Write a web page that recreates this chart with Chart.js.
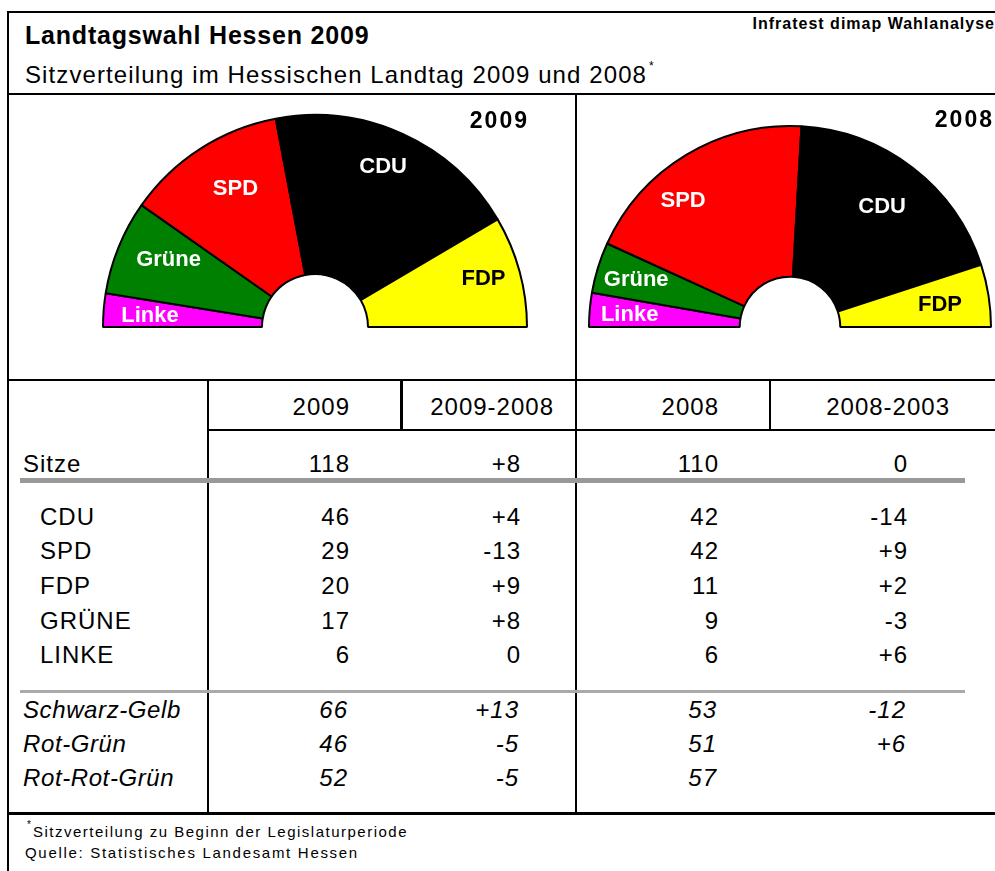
<!DOCTYPE html>
<html><head><meta charset="utf-8">
<script src="https://cdn.jsdelivr.net/npm/chart.js@4.4.1/dist/chart.umd.min.js"></script>
<style>
html,body{margin:0;padding:0;background:#fff;width:995px;height:871px;overflow:hidden;position:relative;font-family:"Liberation Sans",Arial,sans-serif;color:#000}
.ln{position:absolute;background:#000}
.t{position:absolute;white-space:nowrap;line-height:1}
canvas{position:absolute}
</style></head><body>
<div class="ln" style="left:7px;top:11px;width:990px;height:2px"></div>
<div class="ln" style="left:7px;top:11px;width:2px;height:870px"></div>
<div class="ln" style="left:7px;top:93px;width:990px;height:2px"></div>
<div class="ln" style="left:575px;top:93px;width:2px;height:721px"></div>
<div class="ln" style="left:7px;top:379px;width:990px;height:2px"></div>
<div class="ln" style="left:207px;top:379px;width:2px;height:435px"></div>
<div class="ln" style="left:400px;top:379px;width:3px;height:52px"></div>
<div class="ln" style="left:769px;top:379px;width:2px;height:52px"></div>
<div class="ln" style="left:207px;top:429px;width:790px;height:2px"></div>
<div class="ln" style="left:20px;top:478px;width:945px;height:5px;background:#999"></div>
<div class="ln" style="left:20px;top:690px;width:945px;height:3px;background:#aaa"></div>
<div class="ln" style="left:7px;top:812px;width:990px;height:3px"></div>
<canvas id="c2009" width="426" height="220" style="left:102px;top:111px"></canvas>
<canvas id="c2008" width="404" height="211" style="left:588px;top:121px"></canvas>
<script>
// ---- data ----
const parties = ['Linke','Grüne','SPD','CDU','FDP'];
const partyColors = ['#FF00FF','#008000','#FF0000','#000000','#FFFF00'];
const labelColors = ['#FFFFFF','#FFFFFF','#FFFFFF','#FFFFFF','#000000'];
const seats2009 = [6,17,29,46,20];
const seats2008 = [6,9,42,42,11];

const columnHeaders = ['2009','2009-2008','2008','2008-2003'];
const totalLabel = 'Sitze';
const totalRow = ['118','+8','110','0'];
const tableParties = ['CDU','SPD','FDP','GRÜNE','LINKE'];
const col2009 = ['46','29','20','17','6'];
const diff2009 = ['+4','-13','+9','+8','0'];
const col2008 = ['42','42','11','9','6'];
const diff2008 = ['-14','+9','+2','-3','+6'];
const coalitions = ['Schwarz-Gelb','Rot-Grün','Rot-Rot-Grün'];
const coal2009 = ['66','46','52'];
const coalDiff2009 = ['+13','-5','-5'];
const coal2008 = ['53','51','57'];
const coalDiff2008 = ['-12','+6',''];

// ---- text helper ----
function T(txt, x, cy, fs, o){
  o = o || {};
  const d = document.createElement('div');
  d.className = 't';
  d.textContent = txt;
  d.style.fontSize = fs + 'px';
  d.style.top = (cy - 0.4885*fs) + 'px';
  const ls = o.ls || 0;
  if (ls) d.style.letterSpacing = ls + 'px';
  if (o.bold) d.style.fontWeight = 'bold';
  if (o.italic) d.style.fontStyle = 'italic';
  if (o.align === 'right') { d.style.left = (x + ls) + 'px'; d.style.transform = 'translateX(-100%)'; }
  else if (o.align === 'center') { d.style.left = (x + ls/2) + 'px'; d.style.transform = 'translateX(-50%)'; }
  else d.style.left = x + 'px';
  document.body.appendChild(d);
}

T('Landtagswahl Hessen 2009', 25, 35, 25, {bold:true, ls:0.8});
T('Infratest dimap Wahlanalyse', 994, 23.5, 16, {bold:true, ls:1.0, align:'right'});
T('Sitzverteilung im Hessischen Landtag 2009 und 2008', 25, 74.5, 24, {ls:1.1});
T('*', 649, 65.5, 12);
T('2009', 527, 120.5, 23, {bold:true, ls:2, align:'right'});
T('2008', 992, 119.5, 23, {bold:true, ls:2, align:'right'});

const colRight = [349, 520, 718, 907];
const headRight = [349, 553, 718, 949];
const FS = 24, LS = 1;
columnHeaders.forEach((h,i)=>T(h, headRight[i], 407, FS, {ls:LS, align:'right'}));
T(totalLabel, 23, 463.5, FS, {ls:LS});
totalRow.forEach((v,i)=>T(v, colRight[i], 463.5, FS, {ls:LS, align:'right'}));
tableParties.forEach((p,r)=>{
  const cy = 516.5 + r*34.6;
  T(p, 40, cy, FS, {ls:LS});
  [col2009[r], diff2009[r], col2008[r], diff2008[r]].forEach((v,i)=>T(v, colRight[i], cy, FS, {ls:LS, align:'right'}));
});
coalitions.forEach((c,r)=>{
  const cy = 710 + r*33.8;
  T(c, 23, cy, FS, {ls:0.6, italic:true});
  [coal2009[r], coalDiff2009[r], coal2008[r], coalDiff2008[r]].forEach((v,i)=>{ if(v) T(v, colRight[i]-2, cy, FS, {ls:LS, italic:true, align:'right'}); });
});
T('*', 27, 825, 10);
T('Sitzverteilung zu Beginn der Legislaturperiode', 33, 831, 15, {ls:1.5});
T('Quelle: Statistisches Landesamt Hessen', 25, 852.5, 15, {ls:1.7});

// ---- charts ----
const sliceLabels = {
  id: 'sliceLabels',
  afterDatasetsDraw(chart, args, opts){
    const ctx = chart.ctx;
    const meta = chart.getDatasetMeta(0);
    ctx.save();
    ctx.font = 'bold 22px "Liberation Sans", Arial, sans-serif';
    ctx.textAlign = 'center';
    ctx.textBaseline = 'middle';
    meta.data.forEach((arc,i)=>{
      const p = arc.getProps(['x','y','startAngle','endAngle','outerRadius'], true);
      const pl = opts.placement[i];
      const a = (p.startAngle + p.endAngle)/2 - pl[1]*Math.PI/180;
      const r = pl[0]*p.outerRadius;
      ctx.fillStyle = labelColors[i];
      ctx.fillText(chart.data.labels[i], p.x + Math.cos(a)*r, p.y + Math.sin(a)*r);
    });
    ctx.restore();
  }
};
function makeChart(id, values, placement){
  return new Chart(document.getElementById(id), {
    type: 'doughnut',
    data: { labels: parties, datasets: [{ data: values, backgroundColor: partyColors, borderColor: '#000', borderWidth: 2, hoverOffset: 0 }] },
    options: {
      responsive: false, animation: false, events: [],
      rotation: -90, circumference: 180, cutout: '25%',
      plugins: { legend: {display:false}, tooltip: {enabled:false}, sliceLabels: { placement } }
    },
    plugins: [sliceLabels]
  });
}
makeChart('c2009', seats2009, [[0.78,0.8],[0.76,-2.5],[0.753,-2.9],[0.822,1.4],[0.827,0.8]]);
makeChart('c2008', seats2008, [[0.80,0.6],[0.80,0.2],[0.824,9.1],[0.754,0.2],[0.754,-0.7]]);
</script>
</body></html>
